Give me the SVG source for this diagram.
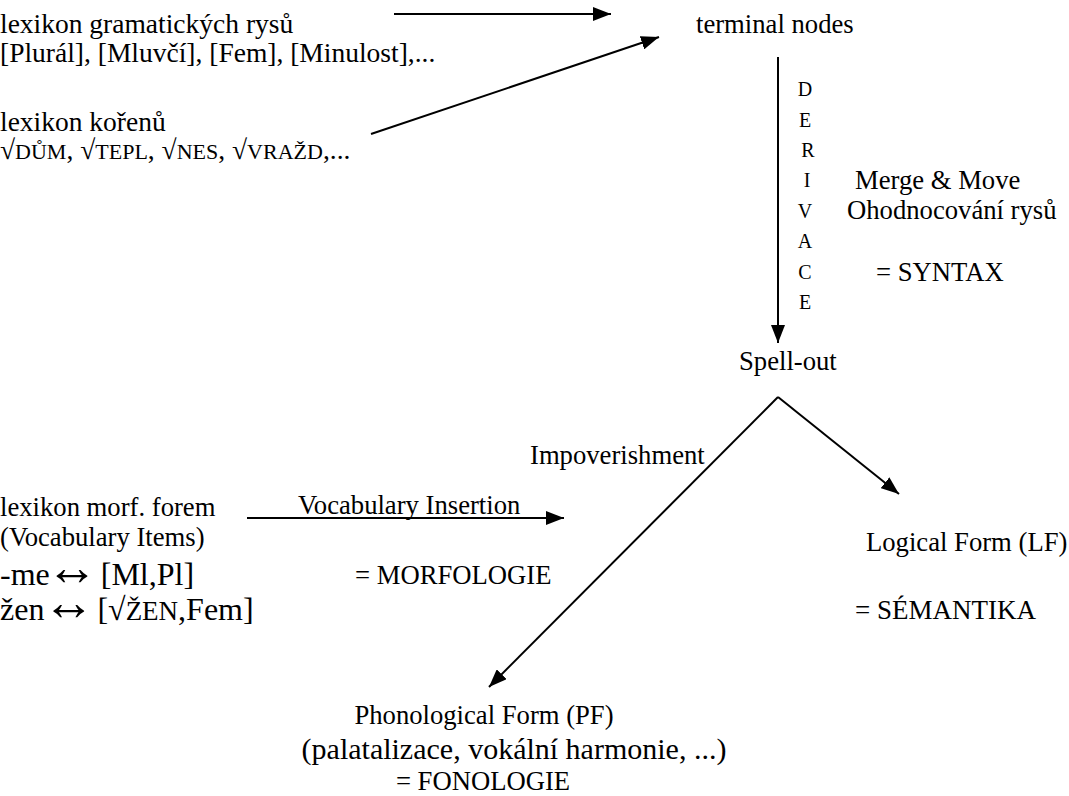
<svg xmlns="http://www.w3.org/2000/svg" width="1069" height="796" viewBox="0 0 1069 796">
<style>
text{font-family:"Liberation Serif","Times New Roman","DejaVu Serif",serif;fill:#000;font-size:26.67px}
.lx{font-size:27.5px}
.big{font-size:30px}
.big32{font-size:32px}
.sc{font-size:22px}
.scb{font-size:27px}
.arw{font-size:52px}
.der{font-size:20px;text-anchor:middle}
.c{text-anchor:middle}
.edge{stroke:#000;stroke-width:2;fill:none}
</style>
<defs>
<marker id="ah" markerUnits="userSpaceOnUse" markerWidth="18" markerHeight="14" refX="18" refY="7" orient="auto">
<path d="M0,0 L18,7 L0,14 z" fill="#000"/>
</marker>
</defs>
<rect width="1069" height="796" fill="#fff"/>
<g id="connectors">
<line class="edge" x1="394" y1="14" x2="611" y2="14" marker-end="url(#ah)"/>
<line class="edge" x1="371" y1="134" x2="659" y2="37" marker-end="url(#ah)"/>
<line class="edge" x1="778" y1="57" x2="778" y2="343" marker-end="url(#ah)"/>
<line class="edge" x1="247" y1="518" x2="564" y2="518" marker-end="url(#ah)"/>
<line class="edge" x1="778" y1="397" x2="899" y2="494" marker-end="url(#ah)"/>
<line class="edge" x1="778" y1="397" x2="489" y2="687" marker-end="url(#ah)"/>
</g>
<g id="lex-gram">
<text class="lx" x="0" y="33">lexikon gramatických rysů</text>
<text class="lx" x="0" y="62">[Plurál], [Mluvčí], [Fem], [Minulost],...</text>
</g>
<g id="lex-roots">
<text class="lx" x="0" y="131">lexikon kořenů</text>
<text class="lx" x="0" y="159">√<tspan class="sc">DŮM</tspan>, √<tspan class="sc">TEPL</tspan>, √<tspan class="sc">NES</tspan>, √<tspan class="sc">VRAŽD</tspan>,...</text>
</g>
<g id="terminal">
<text x="696" y="33">terminal nodes</text>
</g>
<g id="derivace">
<text class="der" x="805" y="96">D</text>
<text class="der" x="805" y="127">E</text>
<text class="der" x="808" y="157">R</text>
<text class="der" x="807" y="187">I</text>
<text class="der" x="805" y="218">V</text>
<text class="der" x="805" y="248">A</text>
<text class="der" x="805" y="279">C</text>
<text class="der" x="805" y="309">E</text>
</g>
<g id="syntax">
<text x="855" y="189">Merge &amp; Move</text>
<text x="847" y="219">Ohodnocování rysů</text>
<text x="876" y="281">= SYNTAX</text>
</g>
<g id="spellout">
<text x="739" y="370">Spell-out</text>
</g>
<g id="impoverishment">
<text x="530" y="464">Impoverishment</text>
</g>
<g id="vocab-insertion">
<text x="298" y="514">Vocabulary Insertion</text>
</g>
<g id="lex-morf">
<text x="0" y="516">lexikon morf. forem</text>
<text x="0" y="546">(Vocabulary Items)</text>
<text class="big32" x="0" y="585">-me<tspan class="arw" dx="-4">↔</tspan><tspan dx="3">[Ml,Pl]</tspan></text>
<text class="big32" x="0" y="620">žen<tspan class="arw" dx="-2">↔</tspan><tspan dx="3">[√<tspan class="scb">ŽEN</tspan>,Fem]</tspan></text>
</g>
<g id="morfologie">
<text x="355" y="584">=  MORFOLOGIE</text>
</g>
<g id="lf">
<text x="866" y="551">Logical Form (LF)</text>
<text x="855" y="619" style="font-size:27px">=  SÉMANTIKA</text>
</g>
<g id="pf">
<text class="c" x="484" y="724">Phonological Form (PF)</text>
<text class="big c" x="514" y="759">(palatalizace, vokální harmonie, ...)</text>
<text class="c" x="483" y="790">= FONOLOGIE</text>
</g>
</svg>
